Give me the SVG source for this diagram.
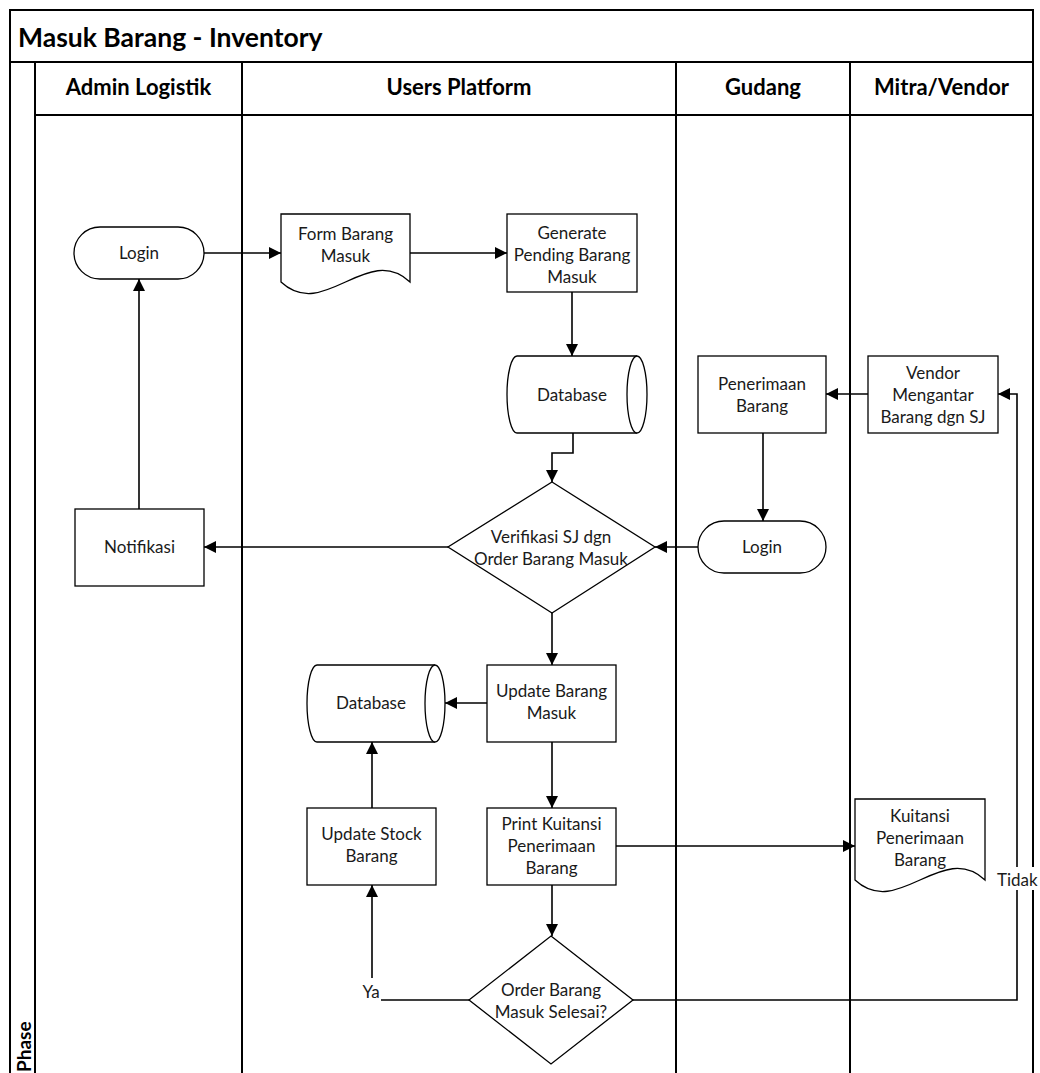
<svg xmlns="http://www.w3.org/2000/svg" width="1040" height="1073" viewBox="0 0 1040 1073">
  <defs>
    <style>
      .lane { fill: none; stroke: #000; stroke-width: 2; }
      .node { fill: #fff; stroke: #000; stroke-width: 1.3; }
      .edge { fill: none; stroke: #000; stroke-width: 1.6; }
      .arrow { marker-end: url(#head); }
      text { font-family: "Lato", "Liberation Sans", sans-serif; fill: #1a1a1a; }
      .t { font-size: 17px; text-anchor: middle; }
      .hdr { font-size: 22px; font-weight: 700; text-anchor: middle; fill: #000; }
      .phase { font-size: 19px; font-weight: 700; text-anchor: start; fill: #000; }
      .title { font-size: 26.5px; font-weight: 700; fill: #000; }
      .lbl { font-size: 17px; }
    </style>
    <marker id="head" viewBox="0 0 12 12" refX="12" refY="6" markerWidth="12" markerHeight="12" markerUnits="userSpaceOnUse" orient="auto">
      <path d="M0,0 L12,6 L0,12 Z" fill="#000"/>
    </marker>
  </defs>

  <rect width="1040" height="1073" fill="#fff"/>

  <!-- pool frame, title bar and swimlanes -->
  <g id="pool">
    <path class="lane" d="M10,1080 V10 H1033 V1080"/>
    <line class="lane" x1="10" y1="62" x2="1033" y2="62"/>
    <line class="lane" x1="35" y1="115" x2="1033" y2="115"/>
    <line class="lane" x1="35" y1="62" x2="35" y2="1080"/>
    <line class="lane" x1="242" y1="62" x2="242" y2="1080"/>
    <line class="lane" x1="676" y1="62" x2="676" y2="1080"/>
    <line class="lane" x1="850" y1="62" x2="850" y2="1080"/>
    <text class="title" x="18" y="47">Masuk Barang - Inventory</text>
    <text class="hdr" x="138.5" y="95">Admin Logistik</text>
    <text class="hdr" x="459" y="95">Users Platform</text>
    <text class="hdr" x="763" y="95">Gudang</text>
    <text class="hdr" x="941.5" y="95">Mitra/Vendor</text>
    <text class="phase" transform="translate(31,1072) rotate(-90)">Phase</text>
  </g>

  <!-- connectors -->
  <g id="connectors">
    <path class="edge arrow" d="M204,253 H281"/>
    <path class="edge arrow" d="M410,253 H507"/>
    <path class="edge arrow" d="M572,292 V356"/>
    <path class="edge arrow" d="M573,433 V453 H552 V482"/>
    <path class="edge arrow" d="M868,394 H826"/>
    <path class="edge arrow" d="M763,433 V521"/>
    <path class="edge arrow" d="M698,547 H655"/>
    <path class="edge arrow" d="M448,547 H204"/>
    <path class="edge arrow" d="M139,509 V279"/>
    <path class="edge arrow" d="M552,613 V665"/>
    <path class="edge arrow" d="M487,703 H445"/>
    <path class="edge arrow" d="M552,742 V808"/>
    <path class="edge arrow" d="M372,808 V742"/>
    <path class="edge arrow" d="M616,846 H855"/>
    <path class="edge arrow" d="M552,885 V936"/>
    <path class="edge arrow" d="M469,1000 H372 V885"/>
    <path class="edge arrow" d="M633,1000 H1017 V394 H998"/>
    <rect x="361" y="978" width="20" height="24" fill="#fff"/>
    <text class="lbl" x="371" y="998" text-anchor="middle">Ya</text>
    <rect x="996" y="867" width="42" height="23" fill="#fff"/>
    <text class="lbl" x="997" y="886">Tidak</text>
  </g>

  <!-- Admin Logistik -->
  <g id="login-admin">
    <rect class="node" x="74" y="227" width="130" height="52" rx="26"/>
    <text class="t" x="139" y="259">Login</text>
  </g>
  <g id="notifikasi">
    <rect class="node" x="75" y="509" width="129" height="77"/>
    <text class="t" x="139.5" y="553">Notifikasi</text>
  </g>

  <!-- Users Platform -->
  <g id="form-barang-masuk">
    <path class="node" d="M281,214 H410 V282 C367,242 324,322 281,282 Z"/>
    <text class="t" x="345.5" y="240">Form Barang</text>
    <text class="t" x="345.5" y="262">Masuk</text>
  </g>
  <g id="generate-pending">
    <rect class="node" x="507" y="214" width="130" height="78"/>
    <text class="t" x="572" y="239">Generate</text>
    <text class="t" x="572" y="261">Pending Barang</text>
    <text class="t" x="572" y="283">Masuk</text>
  </g>
  <g id="database-1">
    <path class="node" d="M517,356 H637 A10,38.5 0 0 1 637,433 H517 A10,38.5 0 0 1 517,356 Z"/>
    <path class="node" fill="none" d="M637,356 A10,38.5 0 0 0 637,433"/>
    <text class="t" x="572" y="401">Database</text>
  </g>
  <g id="verifikasi-sj">
    <path class="node" d="M552,482 L655,547 L552,613 L448,547 Z"/>
    <text class="t" x="551" y="543">Verifikasi SJ dgn</text>
    <text class="t" x="551" y="565">Order Barang Masuk</text>
  </g>
  <g id="update-barang-masuk">
    <rect class="node" x="487" y="665" width="129" height="77"/>
    <text class="t" x="551.5" y="697">Update Barang</text>
    <text class="t" x="551.5" y="719">Masuk</text>
  </g>
  <g id="database-2">
    <path class="node" d="M317,665 H435 A10,38.5 0 0 1 435,742 H317 A10,38.5 0 0 1 317,665 Z"/>
    <path class="node" fill="none" d="M435,665 A10,38.5 0 0 0 435,742"/>
    <text class="t" x="371" y="709">Database</text>
  </g>
  <g id="update-stock">
    <rect class="node" x="307" y="808" width="129" height="77"/>
    <text class="t" x="371.5" y="840">Update Stock</text>
    <text class="t" x="371.5" y="862">Barang</text>
  </g>
  <g id="print-kuitansi">
    <rect class="node" x="487" y="808" width="129" height="77"/>
    <text class="t" x="551.5" y="830">Print Kuitansi</text>
    <text class="t" x="551.5" y="852">Penerimaan</text>
    <text class="t" x="551.5" y="874">Barang</text>
  </g>
  <g id="order-selesai">
    <path class="node" d="M551,936 L633,1000 L551,1064 L469,1000 Z"/>
    <text class="t" x="551" y="996">Order Barang</text>
    <text class="t" x="551" y="1018">Masuk Selesai?</text>
  </g>

  <!-- Gudang -->
  <g id="penerimaan-barang">
    <rect class="node" x="698" y="356" width="128" height="77"/>
    <text class="t" x="762" y="390">Penerimaan</text>
    <text class="t" x="762" y="412">Barang</text>
  </g>
  <g id="login-gudang">
    <rect class="node" x="698" y="521" width="128" height="52" rx="26"/>
    <text class="t" x="762" y="553">Login</text>
  </g>

  <!-- Mitra/Vendor -->
  <g id="vendor-mengantar">
    <rect class="node" x="868" y="356" width="130" height="77"/>
    <text class="t" x="933" y="379">Vendor</text>
    <text class="t" x="933" y="401">Mengantar</text>
    <text class="t" x="933" y="423">Barang dgn SJ</text>
  </g>
  <g id="kuitansi-penerimaan">
    <path class="node" d="M855,799 H985 V880 C942,840 898,920 855,880 Z"/>
    <text class="t" x="920" y="822">Kuitansi</text>
    <text class="t" x="920" y="844">Penerimaan</text>
    <text class="t" x="920" y="866">Barang</text>
  </g>
</svg>
